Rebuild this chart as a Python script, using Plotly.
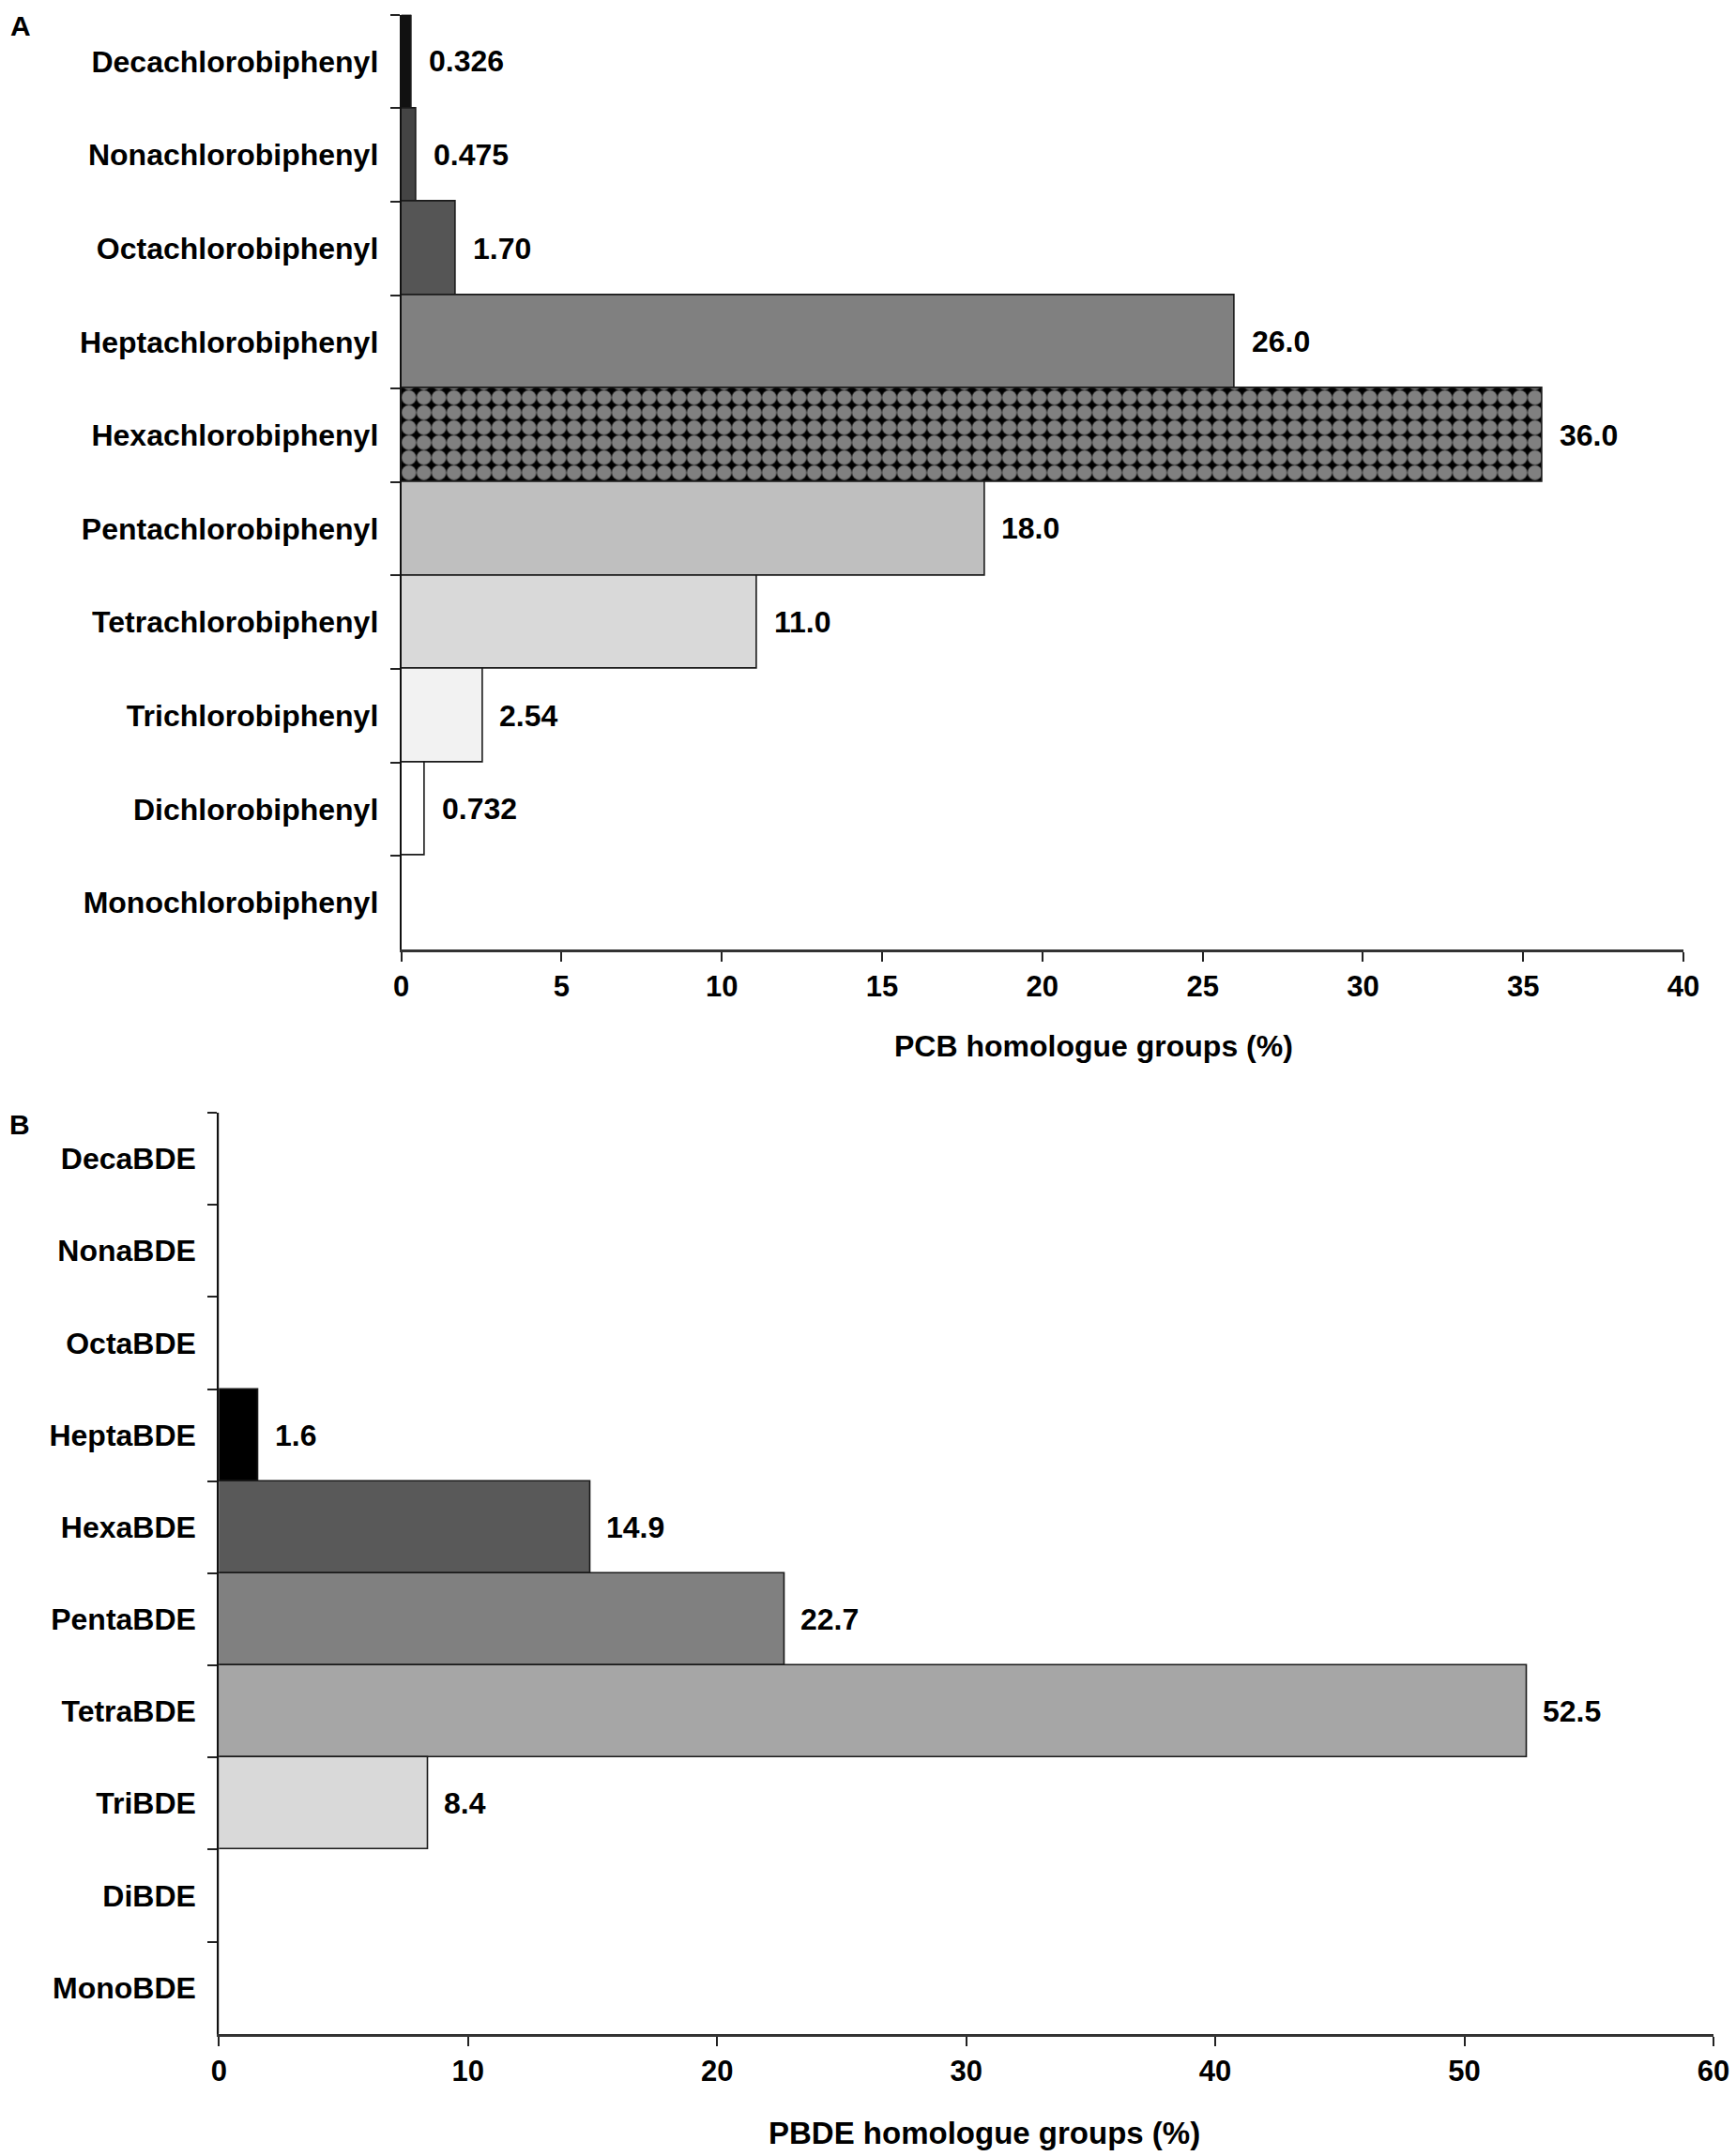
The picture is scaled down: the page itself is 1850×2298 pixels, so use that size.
import plotly.graph_objects as go

W, H = 1850, 2298

# ---------------- data ----------------
pcb_groups = ["Decachlorobiphenyl", "Nonachlorobiphenyl", "Octachlorobiphenyl",
              "Heptachlorobiphenyl", "Hexachlorobiphenyl", "Pentachlorobiphenyl",
              "Tetrachlorobiphenyl", "Trichlorobiphenyl", "Dichlorobiphenyl",
              "Monochlorobiphenyl"]
pcb_values = [0.326, 0.475, 1.70, 26.0, 35.6, 18.2, 11.1, 2.54, 0.732, 0.0]
pcb_labels = ["0.326", "0.475", "1.70", "26.0", "36.0", "18.0", "11.0", "2.54", "0.732", ""]
pcb_colors = ["#111111", "#444444", "#555555", "#808080", "#000000", "#bfbfbf",
              "#d9d9d9", "#f2f2f2", "#ffffff", "#ffffff"]
pcb_patterns = ["", "", "", "", ".", "", "", "", "", ""]

pbde_groups = ["DecaBDE", "NonaBDE", "OctaBDE", "HeptaBDE", "HexaBDE", "PentaBDE",
               "TetraBDE", "TriBDE", "DiBDE", "MonoBDE"]
pbde_values = [0.0, 0.0, 0.0, 1.6, 14.9, 22.7, 52.5, 8.4, 0.0, 0.0]
pbde_labels = ["", "", "", "1.6", "14.9", "22.7", "52.5", "8.4", "", ""]
pbde_colors = ["#ffffff", "#ffffff", "#ffffff", "#000000", "#595959", "#808080",
               "#a6a6a6", "#d9d9d9", "#ffffff", "#ffffff"]

pcb_ticks = [0, 5, 10, 15, 20, 25, 30, 35, 40]
pbde_ticks = [0, 10, 20, 30, 40, 50, 60]

pcb_title = "PCB homologue groups (%)"
pbde_title = "PBDE homologue groups (%)"

# ---------------- styling ----------------
FONT = "Liberation Sans, Arial, sans-serif"
bold = dict(family=FONT, size=32, color="black", weight="bold")
tickbold = dict(family=FONT, size=31, color="black", weight="bold")
title_b_font = dict(family=FONT, size=33, color="black", weight="bold")


def px_x(v):
    return v / W


def px_y(v):
    return 1 - v / H


fig = go.Figure()

fig.add_trace(go.Bar(
    y=pcb_groups, x=pcb_values, orientation="h",
    marker=dict(color=pcb_colors, line=dict(color="#1a1a1a", width=1.6),
                pattern=dict(shape=pcb_patterns, fgcolor="#8c8c8c", size=16,
                             solidity=0.75)),
    xaxis="x", yaxis="y", showlegend=False, hoverinfo="x+y"))

fig.add_trace(go.Bar(
    y=pbde_groups, x=pbde_values, orientation="h",
    marker=dict(color=pbde_colors, line=dict(color="#1a1a1a", width=1.6)),
    xaxis="x2", yaxis="y2", showlegend=False, hoverinfo="x+y"))

annotations = []
for g, v, t in zip(pcb_groups, pcb_values, pcb_labels):
    if t:
        annotations.append(dict(x=v, y=g, xref="x", yref="y", text=t, showarrow=False,
                                xanchor="left", yanchor="middle", xshift=16, font=bold))
for g, v, t in zip(pbde_groups, pbde_values, pbde_labels):
    if t:
        annotations.append(dict(x=v, y=g, xref="x2", yref="y2", text=t, showarrow=False,
                                xanchor="left", yanchor="middle", xshift=15, font=bold))

# panel letters
letter_font = dict(family=FONT, size=30, color="black", weight="bold")
annotations.append(dict(x=px_x(9), y=px_y(27), xref="paper", yref="paper", text="A",
                        showarrow=False, xanchor="left", yanchor="middle", font=letter_font))
annotations.append(dict(x=px_x(8), y=px_y(1198), xref="paper", yref="paper", text="B",
                        showarrow=False, xanchor="left", yanchor="middle", font=letter_font))

# axis titles
annotations.append(dict(x=px_x(1165), y=px_y(1115), xref="paper", yref="paper",
                        text=pcb_title, showarrow=False, xanchor="center",
                        yanchor="middle", font=bold))
annotations.append(dict(x=px_x(1049), y=px_y(2273), xref="paper", yref="paper",
                        text=pbde_title, showarrow=False, xanchor="center",
                        yanchor="middle", font=title_b_font))

xax_common = dict(showgrid=False, zeroline=False, showline=True, linecolor="#333333",
                  linewidth=3, ticks="outside", ticklen=10, tickwidth=2,
                  tickcolor="#222222", tickfont=tickbold, automargin=False,
                  fixedrange=True)
yax_common = dict(showgrid=False, zeroline=False, showline=True, linecolor="#111111",
                  linewidth=2, ticks="outside", ticklen=10, tickwidth=2,
                  tickcolor="#222222", tickson="boundaries", tickfont=bold,
                  automargin=False, ticklabelstandoff=16, type="category",
                  range=[9.5, -0.5], fixedrange=True)

fig.update_layout(
    width=W, height=H,
    margin=dict(l=0, r=0, t=0, b=0),
    paper_bgcolor="white", plot_bgcolor="white",
    bargap=0,
    xaxis=dict(domain=[px_x(427.7), px_x(1794)], anchor="y", range=[0, 40],
               tickvals=pcb_ticks, **xax_common),
    yaxis=dict(domain=[px_y(1011.7), px_y(15.7)], anchor="x",
               categoryarray=pcb_groups, categoryorder="array", **yax_common),
    xaxis2=dict(domain=[px_x(233.3), px_x(1826)], anchor="y2", range=[0, 60],
                tickvals=pbde_ticks, **xax_common),
    yaxis2=dict(domain=[px_y(2167.7), px_y(1186)], anchor="x2",
                categoryarray=pbde_groups, categoryorder="array", **yax_common),
    annotations=annotations,
)

fig.write_html("out.html", config={"displayModeBar": False},
               post_script="document.body.style.margin='0';document.body.style.overflow='hidden';")
